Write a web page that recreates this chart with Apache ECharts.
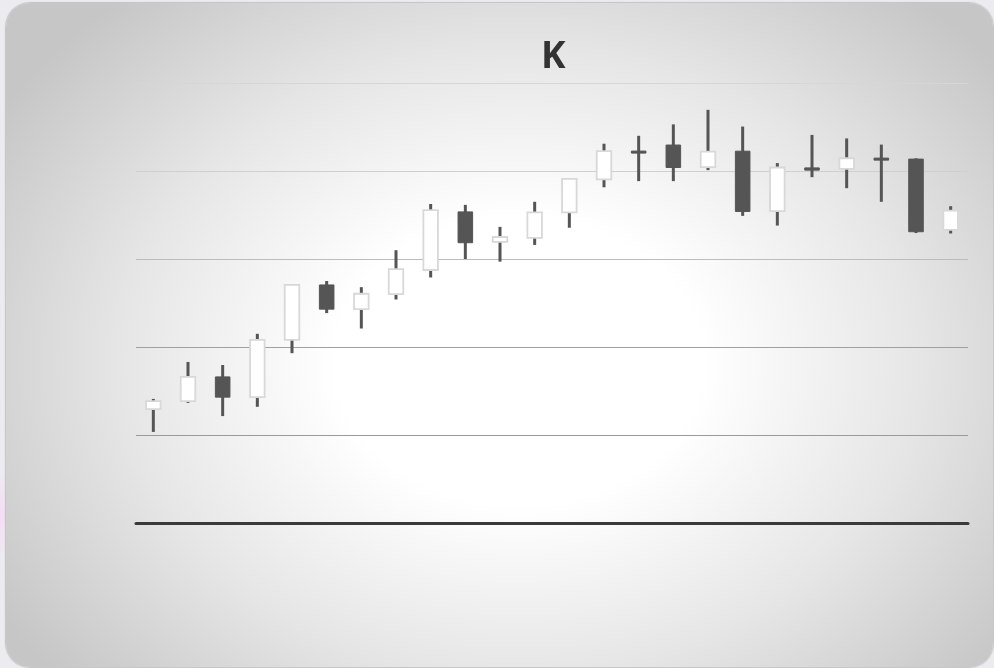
<!DOCTYPE html>
<html>
<head>
<meta charset="utf-8">
<script src="https://cdn.jsdelivr.net/npm/echarts@6/dist/echarts.min.js"></script>
<style>
html,body{margin:0;padding:0;width:994px;height:668px;overflow:hidden;background:#ececf0;}
#bgl{position:absolute;left:0;top:470px;width:8px;height:90px;background:linear-gradient(#ececf0,#f6dcf6 50%,#ececf0);}
#card{position:absolute;left:6px;top:3px;width:987px;height:664px;border-radius:24px;
  background:radial-gradient(ellipse 62% 72% at 52% 54%, #ffffff 0%, #ffffff 30%, #e6e6e6 65%, #c6c6c6 100%);
  box-shadow:0 0 1px 1px #c4c4c4;}
#chart{position:absolute;left:0;top:0;width:994px;height:668px;}
</style>
</head>
<body>
<div id="bgl"></div>
<div id="card"></div>
<div id="chart"></div>
<script>
var categories = ['1','2','3','4','5','6','7','8','9','10','11','12','13','14','15','16','17','18','19','20','21','22','23','24'];
var opens  = [25.9, 27.7, 33.2, 28.6, 41.6, 54.1, 48.6, 52.0, 57.5, 70.7, 63.9, 64.8, 70.6, 78.1, 84.3, 85.9, 80.9, 84.5, 70.9, 80.7, 80.5, 82.7, 82.7, 66.6];
var closes = [27.7, 33.2, 28.6, 41.6, 54.1, 48.6, 52.1, 57.7, 71.1, 63.7, 65.0, 70.6, 78.2, 84.5, 84.3, 80.8, 84.4, 70.8, 80.8, 80.2, 82.9, 82.7, 66.2, 71.0];
var lows   = [20.7, 27.3, 24.3, 26.4, 38.6, 47.7, 44.2, 50.8, 55.8, 60.0, 59.4, 63.2, 67.1, 76.3, 77.7, 77.7, 80.2, 69.8, 67.6, 78.6, 76.1, 73.0, 65.9, 65.8];
var highs  = [28.2, 36.6, 35.9, 43.0, 54.3, 55.0, 53.6, 62.0, 72.5, 72.3, 67.3, 73.0, 78.2, 86.2, 88.0, 90.6, 93.9, 90.1, 81.8, 88.2, 87.4, 86.0, 82.9, 72.0];
var yTicks = [0, 20, 40, 60, 80, 100];

var data = categories.map(function (c, i) { return [i, opens[i], closes[i], lows[i], highs[i]]; });

function renderItem(params, api) {
  var i = api.value(0);
  var o = api.value(1), c = api.value(2), l = api.value(3), h = api.value(4);
  var up = c > o || (c === o && i > 0 && closes[i - 1] <= c);
  var pO = api.coord([i, o]), pC = api.coord([i, c]);
  var pL = api.coord([i, l]), pH = api.coord([i, h]);
  var bw = api.size([1, 0])[0] * 0.42;
  var x = pO[0];
  var top = Math.min(pO[1], pC[1]), bot = Math.max(pO[1], pC[1]);
  if (bot - top < 2) { var m = (top + bot) / 2; top = m - 1; bot = m + 1; }
  return {
    type: 'group',
    children: [
      { type: 'line', shape: { x1: x, y1: pH[1], x2: x, y2: pL[1] },
        style: { stroke: '#555555', lineWidth: 3 } },
      { type: 'rect', shape: { x: x - bw / 2, y: top, width: bw, height: bot - top },
        style: up ? { fill: '#ffffff', stroke: '#d8d8d8', lineWidth: 1.8 }
                  : { fill: '#555555', stroke: '#555555', lineWidth: 1 } }
    ]
  };
}

var chart = echarts.init(document.getElementById('chart'), null, { renderer: 'canvas' });
chart.setOption({
  backgroundColor: 'transparent',
  animation: false,
  title: {
    text: 'K', left: 536, top: 34,
    textStyle: { fontFamily: 'Open Sans', fontWeight: 'bold', fontSize: 37, color: '#333333' }
  },
  grid: { left: 136, right: 26, top: 83, bottom: 145 },
  xAxis: {
    type: 'category', data: categories, boundaryGap: true,
    axisLine: { lineStyle: { color: '#3a3a3a', width: 3 } },
    axisTick: { show: false }, axisLabel: { show: false }, splitLine: { show: false }
  },
  yAxis: {
    type: 'value', min: yTicks[0], max: yTicks[yTicks.length - 1], interval: yTicks[1] - yTicks[0],
    axisLine: { show: false }, axisTick: { show: false }, axisLabel: { show: false },
    splitLine: { lineStyle: { color: ['#999999', '#9a9a9a', '#a0a0a0', '#bcbcbc', '#cfcfcf', '#d6d6d6'], width: 1 } }
  },
  series: [{
    type: 'custom', renderItem: renderItem, data: data,
    encode: { x: 0, y: [1, 2, 3, 4] }
  }]
});
</script>
</body>
</html>
